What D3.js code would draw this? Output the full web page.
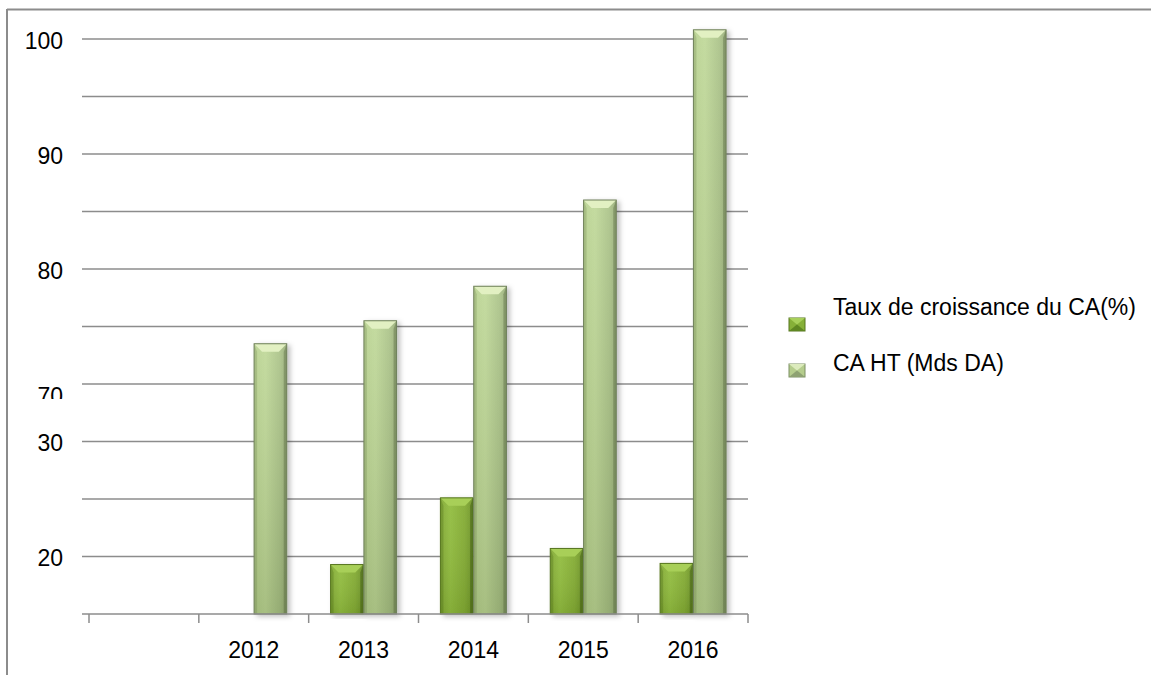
<!DOCTYPE html>
<html>
<head>
<meta charset="utf-8">
<script src="https://cdn.jsdelivr.net/npm/d3@7"></script>
<style>
  body { margin: 0; background: #fff; }
  svg { display: block; font-family: "Liberation Sans", Arial, sans-serif; }
</style>
</head>
<body>
<svg id="chart" width="1151" height="675"></svg>
<script>
// categories (the first one is empty in the original chart)
const years = ['', '2012', '2013', '2014', '2015', '2016'];
const seriesNames = ['Taux de croissance du CA(%)', 'CA HT (Mds DA)'];
const tauxCroissance = [null, null, 19.3, 25.1, 20.7, 19.4];
const caHT = [null, 73.5, 75.5, 78.5, 86.0, 100.8];
// broken value axis: 15..30 then 70..100
const gridValues = [20, 25, 30, 70, 75, 80, 85, 90, 95, 100];
const tickLabels = [20, 30, 70, 80, 90, 100];

const svg = d3.select('#chart');
const width = 1151, height = 675;
const fontSize = 23;

const y = d3.scaleLinear()
  .domain([15, 30, 70, 100])
  .range([614, 441.5, 384, 39]);

const x = d3.scaleBand().domain(years).range([89, 748]).padding(0);
const inner = d3.scaleBand().domain(['taux', 'ca']).range([0, 66]).paddingInner(0.02);
const innerOffset = (x.bandwidth() - 66) / 2;

const defs = svg.append('defs');

function grad(id, stops, vertical) {
  const g = defs.append('linearGradient').attr('id', id)
    .attr('x1', 0).attr('y1', 0)
    .attr('x2', vertical ? 0 : 1).attr('y2', vertical ? 1 : 0);
  stops.forEach(s => g.append('stop').attr('offset', s[0]).attr('stop-color', s[1]));
}
grad('darkFill', [[0, '#82a935'], [0.3, '#92bd3f'], [0.75, '#83ab33'], [1, '#6d9328']]);
grad('lightFill', [[0, '#b4cf8a'], [0.35, '#bcd693'], [0.8, '#a6bf82'], [1, '#93a972']]);
grad('lightShade', [[0, 'rgba(255,255,255,0.12)'], [1, 'rgba(60,70,40,0.16)']], true);
grad('darkShade', [[0, 'rgba(255,255,255,0.05)'], [1, 'rgba(40,60,10,0.12)']], true);

const shadow = defs.append('filter').attr('id', 'shadow')
  .attr('x', '-20%').attr('y', '-5%').attr('width', '150%').attr('height', '115%');
shadow.append('feDropShadow').attr('dx', 3).attr('dy', 2)
  .attr('stdDeviation', 2.5).attr('flood-color', '#000').attr('flood-opacity', 0.25);

const clip70 = defs.append('clipPath').attr('id', 'clip70');
clip70.append('rect').attr('x', 0).attr('y', 370).attr('width', 80).attr('height', 29);

// frame
svg.append('line').attr('x1', 7).attr('x2', width).attr('y1', 9.5).attr('y2', 9.5)
  .attr('stroke', '#8c8c8c').attr('stroke-width', 2);
svg.append('line').attr('x1', 7).attr('x2', 7).attr('y1', 9).attr('y2', height)
  .attr('stroke', '#8c8c8c').attr('stroke-width', 2);

// gridlines
svg.append('g').selectAll('line').data(gridValues).enter().append('line')
  .attr('x1', 82).attr('x2', 748)
  .attr('y1', d => y(d)).attr('y2', d => y(d))
  .attr('stroke', '#8c8c8c').attr('stroke-width', 1.5);

// y labels
const yLab = svg.append('g').attr('font-size', fontSize).attr('fill', '#000').attr('text-anchor', 'end');
yLab.selectAll('text').data(tickLabels).enter().append('text')
  .attr('x', 63)
  .attr('y', d => d === 70 ? y(d) + 12 : y(d) + 1.5)
  .attr('dominant-baseline', 'central')
  .attr('clip-path', d => d === 70 ? 'url(#clip70)' : null)
  .text(d => d);

// bars
function bevelBar(g, bx, by, bw, bh, kind) {
  const b = 8;
  const grp = g.append('g').attr('filter', 'url(#shadow)');
  grp.append('rect').attr('x', bx).attr('y', by).attr('width', bw).attr('height', bh)
    .attr('fill', kind === 'taux' ? 'url(#darkFill)' : 'url(#lightFill)');
  grp.append('rect').attr('x', bx).attr('y', by).attr('width', bw).attr('height', bh)
    .attr('fill', kind === 'taux' ? 'url(#darkShade)' : 'url(#lightShade)');
  // top facet
  grp.append('polygon')
    .attr('points', [[bx, by], [bx + bw, by], [bx + bw - b, by + b], [bx + b, by + b]].join(' '))
    .attr('fill', kind === 'taux' ? '#a8cf58' : '#e2f0c2');
  // side facets
  grp.append('polygon')
    .attr('points', [[bx, by], [bx + 3, by + b], [bx + 3, by + bh], [bx, by + bh]].join(' '))
    .attr('fill', kind === 'taux' ? 'rgba(60,90,10,0.25)' : 'rgba(80,100,50,0.2)');
  grp.append('polygon')
    .attr('points', [[bx + bw, by], [bx + bw - 3, by + b], [bx + bw - 3, by + bh], [bx + bw, by + bh]].join(' '))
    .attr('fill', kind === 'taux' ? 'rgba(40,60,10,0.35)' : 'rgba(60,75,40,0.3)');
  grp.append('rect').attr('x', bx).attr('y', by).attr('width', bw).attr('height', bh)
    .attr('fill', 'none').attr('stroke', kind === 'taux' ? '#56761f' : '#6f805a').attr('stroke-width', 1);
}

const barsG = svg.append('g');
years.forEach((yr, i) => {
  const base = x(yr) + innerOffset;
  if (tauxCroissance[i] != null) {
    const top = y(tauxCroissance[i]);
    bevelBar(barsG, base + inner('taux'), top, inner.bandwidth(), y(15) - top, 'taux');
  }
  if (caHT[i] != null) {
    const top = y(caHT[i]);
    bevelBar(barsG, base + inner('ca'), top, inner.bandwidth(), y(15) - top, 'ca');
  }
});

// x axis
svg.append('line').attr('x1', 82).attr('x2', 748).attr('y1', 614).attr('y2', 614)
  .attr('stroke', '#8c8c8c').attr('stroke-width', 1.5);
const tickPos = years.map(d => x(d)).concat([x.range()[1]]);
svg.append('g').selectAll('line').data(tickPos).enter().append('line')
  .attr('x1', d => d).attr('x2', d => d).attr('y1', 614).attr('y2', 623)
  .attr('stroke', '#8c8c8c').attr('stroke-width', 1.5);
svg.append('g').attr('font-size', fontSize).attr('text-anchor', 'middle')
  .selectAll('text').data(years).enter().append('text')
  .attr('x', d => x(d) + x.bandwidth() / 2)
  .attr('y', 650)
  .attr('dominant-baseline', 'central')
  .text(d => d);

// legend
const legend = svg.append('g');
const legendRows = [
  { name: seriesNames[0], kind: 'taux', ty: 307, my: 318 },
  { name: seriesNames[1], kind: 'ca', ty: 363, my: 364 }
];
legendRows.forEach(r => {
  const mx = 789, mw = 16, mh = 13;
  legend.append('rect').attr('x', mx).attr('y', r.my).attr('width', mw).attr('height', mh)
    .attr('fill', r.kind === 'taux' ? '#86b038' : '#b5cd8d')
    .attr('stroke', r.kind === 'taux' ? '#56761f' : '#7d8f64').attr('stroke-width', 1);
  legend.append('polygon')
    .attr('points', [[mx, r.my], [mx + mw, r.my], [mx + mw / 2, r.my + mh / 2]].join(' '))
    .attr('fill', r.kind === 'taux' ? '#a8d05a' : '#dcebbd');
  legend.append('polygon')
    .attr('points', [[mx, r.my + mh], [mx + mw, r.my + mh], [mx + mw / 2, r.my + mh / 2]].join(' '))
    .attr('fill', r.kind === 'taux' ? '#5f8722' : '#8ea272');
  legend.append('text').attr('x', 833).attr('y', r.ty)
    .attr('dominant-baseline', 'central').attr('font-size', fontSize)
    .text(r.name);
});
</script>
</body>
</html>
